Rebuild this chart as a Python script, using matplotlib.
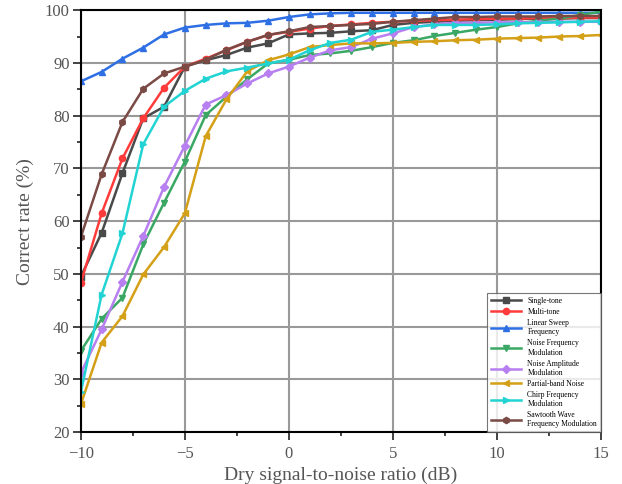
import matplotlib.pyplot as plt
from matplotlib.ticker import MultipleLocator

snr = list(range(-10, 16))

single_tone = [49.5, 57.8, 69.1, 79.5, 81.7, 89.3, 90.5, 91.5, 92.9, 93.7, 95.4,
               95.6, 95.7, 96.0, 96.2, 97.2, 97.6, 97.8, 98.0, 98.1, 98.2, 98.3, 98.4, 98.4, 98.5, 98.5]
multi_tone = [48.3, 61.5, 71.9, 79.5, 85.3, 89.3, 90.8, 92.4, 94.0, 95.3, 95.9,
              96.5, 97.0, 97.3, 97.6, 97.8, 98.0, 98.1, 98.2, 98.3, 98.4, 98.4, 98.5, 98.5, 98.6, 98.6]
linear_sweep = [86.5, 88.3, 90.8, 92.9, 95.4, 96.7, 97.2, 97.5, 97.6, 98.0, 98.7,
                99.2, 99.4, 99.5, 99.5, 99.5, 99.5, 99.5, 99.5, 99.5, 99.5, 99.5, 99.5, 99.5, 99.5, 99.5]
noise_fm = [35.4, 41.5, 45.5, 55.6, 63.5, 71.3, 80.1, 83.6, 86.9, 89.9, 90.6,
            91.5, 91.8, 92.3, 93.0, 93.8, 94.3, 95.1, 95.7, 96.3, 96.8, 97.5, 98.0, 98.4, 99.1, 99.7]
noise_am = [31.2, 39.5, 48.5, 57.2, 66.5, 74.3, 82.1, 83.9, 86.1, 88.0, 89.3,
            91.0, 92.4, 93.0, 94.6, 95.6, 96.8, 97.3, 97.6, 97.6, 97.7, 97.7, 97.7, 97.8, 97.8, 97.8]
partial_band = [25.3, 37.0, 42.0, 49.9, 55.1, 61.5, 76.1, 83.1, 88.4, 90.5, 91.6,
                93.0, 93.4, 93.7, 93.7, 93.8, 94.0, 94.1, 94.3, 94.4, 94.6, 94.7, 94.8, 95.0, 95.1, 95.3]
chirp = [27.6, 46.1, 57.7, 74.6, 81.7, 84.7, 87.0, 88.4, 89.1, 89.9, 90.6,
         92.4, 93.8, 94.4, 95.9, 96.3, 96.8, 97.2, 97.2, 97.2, 97.3, 97.5, 97.6, 97.7, 97.8, 97.9]
sawtooth = [57.0, 68.9, 78.8, 85.1, 88.0, 89.3, 90.6, 92.5, 94.0, 95.3, 96.0,
            96.8, 97.0, 97.2, 97.4, 97.8, 98.1, 98.4, 98.7, 98.7, 98.8, 98.8, 98.8, 98.9, 98.9, 98.9]

series = [
    ('Single-tone', single_tone, '#4a4a4a', 's'),
    ('Multi-tone', multi_tone, '#ff3b3b', 'o'),
    ('Linear Sweep\nFrequency', linear_sweep, '#2f6fe4', '^'),
    ('Noise Frequency\nModulation', noise_fm, '#3aa864', 'v'),
    ('Noise Amplitude\nModulation', noise_am, '#b77ff0', 'D'),
    ('Partial-band Noise', partial_band, '#d4a017', '<'),
    ('Chirp Frequency\nModulation', chirp, '#22d3d3', '>'),
    ('Sawtooth Wave\nFrequency Modulation', sawtooth, '#7a4a45', 'h'),
]

plt.rcParams['font.family'] = ['Liberation Serif', 'DejaVu Serif']

fig = plt.figure(figsize=(6.22, 4.84), dpi=100)
ax = fig.add_axes([0.130, 0.107, 0.836, 0.872])

for name, vals, col, mk in series:
    ax.plot(snr, vals, color=col, marker=mk, markersize=4.5, linewidth=1.8, label=name)

ax.set_xlim(-10, 15)
ax.set_ylim(20, 100)
ax.xaxis.set_major_locator(MultipleLocator(5))
ax.xaxis.set_minor_locator(MultipleLocator(2.5))
ax.yaxis.set_major_locator(MultipleLocator(10))
ax.yaxis.set_minor_locator(MultipleLocator(5))
ax.tick_params(which='both', direction='out', labelsize=12, labelcolor='#555555', color='#222222')
ax.tick_params(which='major', length=6, width=1.2, pad=2)
ax.tick_params(which='minor', length=3, width=1.2)
ax.tick_params(axis='x', which='major', pad=4)
ax.grid(True, which='major', color='#999999', linewidth=1.5)
ax.set_axisbelow(True)
for sp in ax.spines.values():
    sp.set_linewidth(1.5)

ax.set_xlabel('Dry signal-to-noise ratio (dB)', fontsize=14, color='#555555', labelpad=3)
ax.set_ylabel('Correct rate (%)', fontsize=14, color='#555555', labelpad=8)

leg = ax.legend(loc='lower right', fontsize=5.5, handlelength=4, frameon=True,
                fancybox=False, edgecolor='#555555', borderaxespad=0.0, labelspacing=0.4,
                borderpad=0.5, handletextpad=0.8)
leg.get_frame().set_linewidth(0.8)

fig.savefig('out.png', dpi=100)
